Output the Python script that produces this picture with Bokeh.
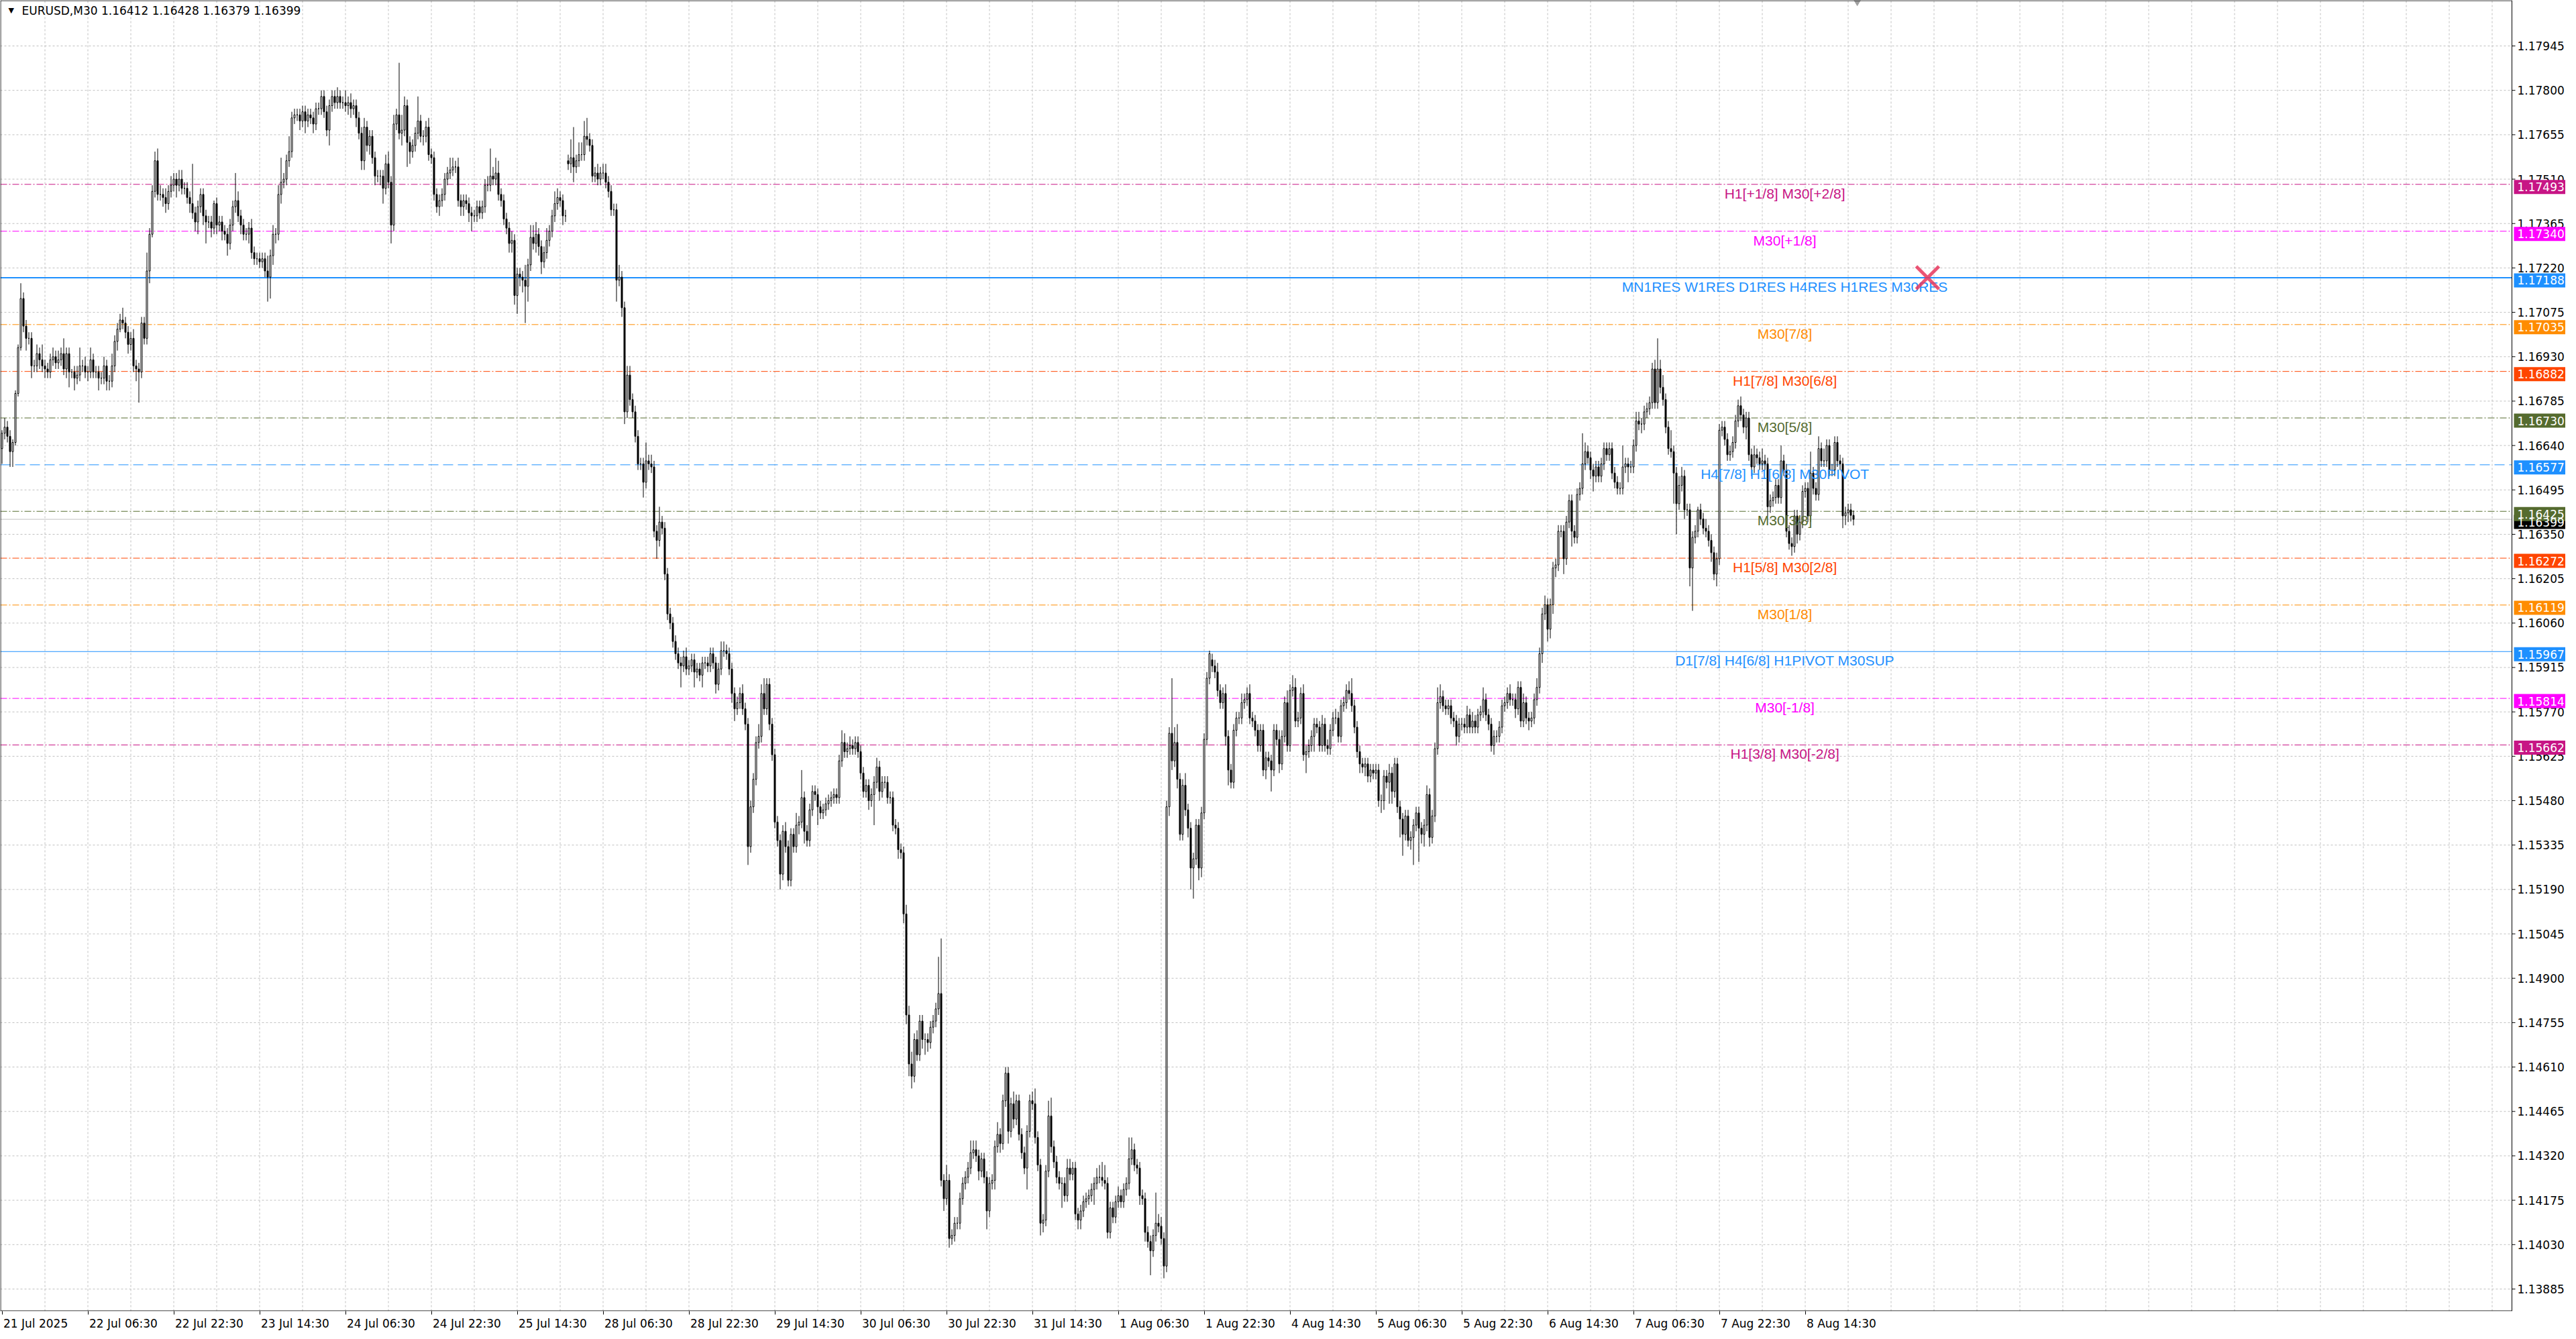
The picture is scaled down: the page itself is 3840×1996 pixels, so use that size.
from bokeh.plotting import figure
from bokeh.models import Range1d, FixedTicker, Label, ColumnDataSource
from bokeh.core.properties import value
from bokeh.embed import file_html
from bokeh.resources import INLINE

# ---------------- data ----------------
symbol = "EURUSD,M30"
header_ohlc = [1.16412, 1.16428, 1.16379, 1.16399]

# closes of each M30 bar, in pips (price * 10000); bar 0 = 21 Jul 14:30
closes_pips = [
    11668,11670,11667,11662,11665,11681,11696,11712,11703,11699,11699,11690,11690,11694,11692,11690,11689,11688,11692,11693,
    11691,11692,11694,11689,11694,11688,11688,11686,11687,11690,11690,11688,11688,11692,11688,11688,11686,11686,11690,11685,
    11685,11690,11698,11702,11705,11704,11701,11697,11699,11690,11689,11688,11704,11699,11721,11733,11747,11757,11746,11746,
    11745,11743,11747,11749,11751,11749,11751,11748,11748,11745,11743,11740,11737,11742,11746,11739,11737,11737,11735,11743,
    11736,11737,11734,11733,11730,11736,11742,11744,11739,11736,11733,11733,11735,11727,11725,11725,11724,11725,11721,11719,
    11726,11733,11733,11746,11750,11751,11757,11760,11771,11772,11772,11770,11773,11770,11772,11771,11769,11774,11774,11778,
    11773,11767,11775,11778,11776,11778,11776,11776,11775,11776,11774,11775,11771,11766,11757,11768,11762,11765,11758,11752,
    11752,11752,11748,11756,11750,11736,11769,11772,11766,11767,11775,11763,11760,11762,11766,11770,11765,11765,11768,11759,
    11758,11746,11742,11744,11746,11751,11753,11754,11755,11755,11744,11742,11744,11743,11740,11739,11739,11742,11740,11742,
    11749,11749,11752,11751,11753,11746,11744,11738,11735,11730,11731,11713,11720,11719,11718,11716,11723,11732,11730,11733,
    11729,11724,11727,11731,11734,11739,11743,11745,11744,11739,11739,11756,11758,11755,11757,11759,11759,11765,11764,11762,
    11752,11753,11751,11753,11753,11750,11747,11741,11741,11718,11719,11709,11675,11687,11679,11675,11667,11658,11658,11652,
    11659,11658,11657,11636,11633,11639,11637,11622,11609,11606,11600,11596,11593,11592,11595,11591,11592,11594,11590,11591,
    11589,11593,11593,11592,11596,11593,11586,11591,11597,11597,11596,11591,11583,11578,11580,11583,11578,11573,11533,11546,
    11555,11567,11569,11583,11578,11586,11573,11563,11541,11535,11524,11538,11533,11522,11537,11533,11540,11541,11549,11538,
    11535,11545,11551,11550,11546,11544,11545,11547,11548,11549,11550,11549,11561,11567,11564,11565,11566,11565,11567,11564,
    11557,11551,11553,11548,11550,11554,11559,11551,11554,11554,11549,11549,11540,11539,11532,11531,11511,11478,11462,11458,
    11470,11465,11476,11470,11470,11469,11474,11476,11480,11485,11424,11418,11424,11405,11406,11410,11410,11418,11423,11425,
    11428,11433,11434,11432,11427,11431,11425,11414,11423,11424,11435,11439,11436,11450,11459,11440,11449,11444,11450,11439,
    11433,11428,11440,11450,11449,11438,11429,11410,11411,11427,11445,11435,11430,11425,11423,11423,11419,11428,11426,11428,
    11413,11411,11414,11417,11418,11419,11421,11423,11425,11425,11424,11423,11407,11415,11412,11417,11419,11417,11421,11423,
    11431,11434,11429,11428,11419,11418,11407,11404,11401,11406,11410,11409,11405,11396,11546,11570,11561,11567,11555,11537,
    11553,11545,11539,11526,11529,11540,11526,11544,11568,11588,11596,11592,11590,11584,11580,11583,11569,11558,11554,11571,
    11575,11575,11580,11581,11583,11575,11574,11571,11566,11571,11558,11562,11561,11558,11571,11568,11560,11569,11580,11566,
    11584,11585,11574,11575,11583,11563,11564,11566,11569,11573,11572,11566,11573,11566,11565,11571,11575,11575,11569,11579,
    11580,11584,11583,11579,11572,11564,11560,11559,11560,11556,11558,11557,11558,11548,11548,11556,11554,11557,11551,11560,
    11546,11542,11537,11543,11535,11536,11540,11544,11539,11537,11540,11550,11536,11543,11565,11580,11582,11579,11578,11579,
    11575,11574,11569,11573,11573,11572,11576,11572,11574,11572,11576,11577,11581,11576,11573,11566,11569,11569,11572,11579,
    11580,11583,11581,11581,11578,11585,11574,11580,11575,11574,11575,11581,11585,11596,11609,11612,11604,11612,11624,11625,
    11636,11636,11627,11639,11646,11636,11634,11648,11650,11658,11662,11660,11656,11654,11657,11654,11658,11663,11661,11663,
    11655,11652,11650,11650,11657,11658,11657,11657,11664,11672,11671,11671,11675,11676,11678,11689,11678,11689,11683,11679,
    11670,11663,11662,11655,11645,11651,11654,11643,11643,11624,11634,11636,11643,11640,11637,11636,11633,11629,11622,11627,
    11669,11670,11666,11661,11662,11665,11672,11677,11674,11670,11673,11661,11657,11661,11660,11658,11659,11658,11644,11646,
    11647,11651,11647,11659,11656,11636,11632,11631,11641,11635,11639,11649,11650,11641,11655,11650,11648,11663,11659,11659,
    11664,11656,11656,11665,11659,11658,11641,11642,11643,11641.2,11639.9,
]
first_open = 11663
gap_opens = {211: 11757, 451: 11594}

# upper / lower shadow lengths in pips
hi_wick = [
    1,3,2,2,1,1,1,5,2,2,2,2,2,3,2,5,2,2,2,3,
    2,3,2,5,2,2,1,2,3,6,2,3,2,4,2,2,2,2,3,2,
    2,4,2,2,2,4,2,2,2,3,2,2,2,2,6,2,2,3,4,3,
    2,3,2,3,2,2,3,3,2,2,2,13,2,2,2,2,2,2,2,1,
    2,2,2,2,2,2,2,9,3,2,2,2,2,3,2,2,2,2,2,5,
    2,3,2,3,8,2,2,5,2,2,2,2,2,2,2,2,2,2,2,2,
    2,2,2,2,2,3,2,2,4,2,3,2,2,2,2,3,2,2,2,2,
    2,2,2,3,4,2,3,2,17,5,3,2,2,2,2,8,2,2,2,3,
    2,2,2,2,2,2,2,4,3,2,3,2,2,2,2,2,2,2,2,2,
    2,3,9,3,5,4,2,2,2,2,3,2,2,2,2,5,2,4,4,4,
    2,2,2,4,2,2,4,3,2,2,2,2,6,10,2,4,4,5,6,2,
    2,2,3,2,3,3,2,2,2,2,4,2,2,3,3,2,2,2,2,2,
    6,2,3,2,2,5,2,2,2,2,2,2,2,2,2,3,2,2,2,2,
    2,2,2,2,2,2,2,2,3,3,2,2,2,2,2,2,3,2,2,2,
    2,2,4,3,5,2,2,2,2,2,2,2,3,2,2,2,4,2,9,2,
    2,2,2,2,2,2,2,2,2,2,2,2,2,4,3,2,3,2,2,2,
    2,2,2,2,2,2,3,2,2,2,2,2,2,2,2,2,2,3,3,4,
    2,3,2,2,2,2,2,2,2,12,18,2,5,2,2,2,2,2,2,2,
    2,4,3,3,2,2,2,2,2,2,2,4,2,2,2,2,2,4,2,2,
    2,2,2,2,3,5,2,2,2,2,5,6,2,2,2,2,2,3,3,2,
    2,2,2,2,2,2,2,2,3,4,5,5,2,2,2,2,3,2,2,2,
    7,4,2,2,2,2,2,2,2,2,10,3,3,2,2,2,18,5,6,2,
    2,4,2,2,2,2,2,2,2,2,1,2,2,3,2,2,3,2,2,2,
    2,2,3,2,2,3,2,2,2,2,2,2,2,2,2,2,3,2,2,4,
    2,4,3,2,2,3,2,2,2,2,2,2,3,2,2,2,2,3,2,2,
    2,2,3,5,2,2,2,2,2,2,2,2,2,2,2,2,2,3,2,2,
    2,2,2,2,2,2,2,2,2,2,2,3,2,2,2,5,4,2,2,2,
    2,2,2,2,2,2,3,2,3,2,2,2,4,2,2,2,2,2,2,2,
    2,2,3,2,2,2,2,3,2,2,2,2,3,2,2,3,2,2,2,2,
    2,2,2,2,2,2,2,2,2,10,3,2,2,2,2,2,2,2,2,2,
    2,2,2,2,7,2,2,2,2,3,3,2,2,2,2,2,3,10,3,4,
    2,2,6,2,2,3,3,2,2,2,2,2,1,2,2,3,2,2,2,2,
    2,2,2,2,2,2,2,2,3,2,2,2,2,3,2,2,4,2,2,2,
    2,2,2,5,2,2,2,2,2,2,2,2,2,2,7,2,2,4,2,4,
    2,2,2,2,2,2,2,2,2,2,1.6,
]
lo_wick = [
    5,2,2,5,5,1,1,1,2,4,2,4,2,2,3,2,3,2,2,2,
    2,2,2,2,3,5,2,4,2,2,2,2,3,2,2,2,4,2,2,3,
    3,2,2,3,1,2,2,3,2,2,4,10,2,2,2,4,1,2,2,2,
    3,3,2,2,2,4,2,2,2,2,3,2,3,4,2,3,7,2,3,2,
    3,2,3,2,4,2,2,2,2,3,2,2,3,2,2,2,2,2,2,8,
    7,3,3,2,3,2,2,2,2,2,2,3,2,4,2,2,3,2,2,2,
    2,2,5,2,2,2,2,2,2,3,3,2,3,2,3,3,2,3,2,3,
    2,3,5,2,2,6,2,2,2,4,2,8,4,2,2,2,2,3,2,2,
    2,2,2,3,2,2,2,2,2,2,2,3,3,2,3,5,2,2,2,2,
    2,2,2,2,2,2,2,2,2,3,3,3,6,3,4,12,5,2,2,3,
    3,4,2,2,2,2,2,2,2,3,2,2,3,5,2,2,2,2,2,2,
    2,2,2,2,2,2,2,2,2,7,2,3,4,2,2,2,2,2,2,5,
    2,2,2,2,6,2,2,2,2,2,2,2,2,7,2,2,2,2,5,2,
    2,4,2,2,2,2,3,2,2,2,2,2,3,4,2,2,2,2,6,2,
    2,2,2,2,2,2,2,2,2,2,5,2,2,2,2,2,2,3,2,4,
    2,2,2,2,6,2,2,2,2,2,2,2,2,2,2,2,2,2,2,2,
    2,2,2,3,2,10,2,3,2,2,2,2,2,2,3,2,3,3,4,4,
    2,2,2,3,5,3,2,2,2,2,2,4,2,3,2,2,2,2,2,2,
    2,2,2,2,3,2,2,6,2,2,3,2,3,2,2,4,2,3,2,2,
    2,2,7,2,2,2,2,4,3,2,2,2,2,2,2,8,2,2,2,2,
    2,3,3,2,2,2,2,5,2,2,2,2,2,2,2,2,2,2,2,2,
    2,2,2,2,3,2,3,2,8,2,2,2,2,4,2,3,3,2,3,2,
    2,2,3,7,10,2,4,3,2,2,2,2,2,2,2,2,3,5,2,2,
    2,2,2,2,2,2,2,2,2,2,2,3,2,7,2,2,3,2,2,2,
    2,2,2,2,2,2,6,2,2,5,2,2,2,2,2,2,2,2,2,2,
    2,2,2,2,2,2,3,2,3,2,2,2,2,2,4,3,2,7,4,2,
    2,6,7,2,2,3,9,2,11,3,4,2,3,2,2,2,2,2,2,2,
    2,2,3,2,2,2,2,2,2,2,2,2,2,2,2,2,3,2,2,2,
    2,2,2,2,3,2,2,2,2,3,2,2,2,2,3,2,4,3,3,3,
    2,2,5,2,2,5,2,2,2,2,2,2,3,5,2,2,2,2,2,2,
    2,2,2,2,2,2,5,2,2,2,2,3,2,2,2,2,2,2,2,2,
    2,2,2,10,10,2,2,3,2,6,14,2,2,2,2,2,2,3,2,4,
    2,2,2,2,2,2,2,2,2,2,4,2,3,2,2,2,2,2,3,2,
    2,2,2,2,2,2,2,3,2,3,2,2,2,2,2,2,2,2,2,2,
    2,2,2,2,2,2,4,3,3,2,2.0,
]

time_labels = ["21 Jul 2025", "22 Jul 06:30", "22 Jul 22:30", "23 Jul 14:30", "24 Jul 06:30",
               "24 Jul 22:30", "25 Jul 14:30", "28 Jul 06:30", "28 Jul 22:30", "29 Jul 14:30",
               "30 Jul 06:30", "30 Jul 22:30", "31 Jul 14:30", "1 Aug 06:30", "1 Aug 22:30",
               "4 Aug 14:30", "5 Aug 06:30", "5 Aug 22:30", "6 Aug 14:30", "7 Aug 06:30",
               "7 Aug 22:30", "8 Aug 14:30"]
bars_per_label = 32
bars_per_vgrid = 16

price_ticks = [1.17945, 1.17800, 1.17655, 1.17510, 1.17365, 1.17220, 1.17075, 1.16930, 1.16785,
               1.16640, 1.16495, 1.16350, 1.16205, 1.16060, 1.15915, 1.15770, 1.15625, 1.15480,
               1.15335, 1.15190, 1.15045, 1.14900, 1.14755, 1.14610, 1.14465, 1.14320, 1.14175,
               1.14030, 1.13885]

level_prices = [1.17493, 1.17340, 1.17188, 1.17035, 1.16882, 1.16730, 1.16577,
                1.16425, 1.16272, 1.16119, 1.15967, 1.15814, 1.15662]
level_texts = ["H1[+1/8] M30[+2/8]", "M30[+1/8]", "MN1RES W1RES D1RES H4RES H1RES M30RES",
               "M30[7/8]", "H1[7/8] M30[6/8]", "M30[5/8]", "H4[7/8] H1[6/8] M30PIVOT",
               "M30[3/8]", "H1[5/8] M30[2/8]", "M30[1/8]", "D1[7/8] H4[6/8] H1PIVOT M30SUP",
               "M30[-1/8]", "H1[3/8] M30[-2/8]"]
level_colors = ["#C71585", "#FF00FF", "#1E90FF", "#FF8C00", "#FF4500", "#556B2F", "#1E90FF",
                "#556B2F", "#FF4500", "#FF8C00", "#1E90FF", "#FF00FF", "#C71585"]
level_dashes = ["10 3 2 3", "10 3 2 3", "solid", "10 3 2 3", "10 3 2 3", "10 3 2 3", "15 7",
                "10 3 2 3", "10 3 2 3", "10 3 2 3", "solid", "10 3 2 3", "10 3 2 3"]
level_widths = [1, 1, 2, 1, 1, 1, 1, 1, 1, 1, 1, 1, 1]

trade_mark_x = [717.6]
trade_mark_y = [1.17188]
shift_mark_x = [691.4]

# ---------------- geometry ----------------
CANVAS_W = 3824          # whole drawing area (chart + price scale)
CHART_W = 3744           # chart part, left of the price scale
FRAME_H = 1954
BAR_PX = 4.0
PX_PER_PRICE = 45640.0
x0 = -0.625
x1 = x0 + CANVAS_W / BAR_PX
xb = x0 + CHART_W / BAR_PX          # chart / price-scale border
y_top = 1.180940
y_bot = y_top - FRAME_H / PX_PER_PRICE
hpx = 0.5 / BAR_PX                  # half a pixel in x units
vpx = 0.5 / PX_PER_PRICE            # half a pixel in y units
box_drop = 4 / PX_PER_PRICE         # price boxes sit a few px below their line
level_text_x = 664.4

n = min(len(closes_pips), len(hi_wick), len(lo_wick))
closes = closes_pips[:n]
opens = [first_open] + closes[:-1]
for k, v in gap_opens.items():
    if k < n:
        opens[k] = v
o = [v / 1e4 for v in opens]
c = [v / 1e4 for v in closes]
top = [max(a, b) for a, b in zip(o, c)]
bot = [min(a, b) for a, b in zip(o, c)]
hi = [t + w / 1e4 for t, w in zip(top, hi_wick)]
lo = [b - w / 1e4 for b, w in zip(bot, lo_wick)]
fill = ["white" if cc >= oo else "black" for oo, cc in zip(o, c)]
src = ColumnDataSource(dict(x=list(range(n)), top=top, bottom=bot, high=hi, low=lo, fill=fill))

p = figure(frame_width=CANVAS_W, frame_height=FRAME_H,
           x_range=Range1d(x0, x1), y_range=Range1d(y_bot, y_top),
           y_axis_location=None, toolbar_location=None, output_backend="svg",
           min_border_left=0, min_border_top=0, min_border_bottom=0, min_border_right=0,
           background_fill_color="white", border_fill_color="white")
p.outline_line_color = None
p.xgrid.visible = False
p.ygrid.visible = False

# x axis: left-aligned labels (label centre shifted right of its tick)
cw = {" ": .318, ":": .337, "J": .295, "u": .634, "l": .278, "A": .684, "g": .635}
fs_x = 17
tick_bars = [i * bars_per_label for i in range(len(time_labels))]
centers = []
for tb, lab in zip(tick_bars, time_labels):
    wpx = sum(cw.get(ch, .636) for ch in lab) * fs_x
    centers.append(round(tb + (wpx / 2 + 2) / BAR_PX, 2))
p.xaxis.ticker = FixedTicker(ticks=centers, minor_ticks=tick_bars)
p.xaxis.major_label_overrides = {cc: lab for cc, lab in zip(centers, time_labels)}
p.xaxis.major_tick_line_color = None
p.xaxis.major_tick_in = 0
p.xaxis.major_tick_out = 0
p.xaxis.minor_tick_in = 0
p.xaxis.minor_tick_out = 5
p.xaxis.minor_tick_line_color = "black"
p.xaxis.major_label_standoff = 3
p.xaxis.major_label_text_font = "DejaVu Sans"
p.xaxis.major_label_text_font_size = f"{fs_x}px"
p.xaxis.major_label_text_color = "black"
p.xaxis.axis_line_color = None

# grid (only over the chart part)
vg = list(range(bars_per_vgrid, int(xb), bars_per_vgrid))
p.segment(x0=vg, x1=vg, y0=[y_bot] * len(vg), y1=[y_top] * len(vg),
          line_color="#C0C0C0", line_dash="3 3", line_width=1)
p.segment(x0=[x0] * len(price_ticks), x1=[xb] * len(price_ticks), y0=price_ticks, y1=price_ticks,
          line_color="#C0C0C0", line_dash="3 3", line_width=1)

# level lines (under candles)
for pr, col, dsh, lw in zip(level_prices, level_colors, level_dashes, level_widths):
    p.segment(x0=[x0], x1=[xb], y0=[pr], y1=[pr], line_color=col, line_dash=dsh, line_width=lw)
p.segment(x0=[x0], x1=[xb], y0=[header_ohlc[3]], y1=[header_ohlc[3]], line_color="#C0C0C0", line_width=1)

# candles
p.segment(x0="x", y0="low", x1="x", y1="high", source=src, line_color="black", line_width=1)
p.vbar(x="x", width=0.5, top="top", bottom="bottom", fill_color="fill",
       line_color="black", line_width=1, source=src)

# level texts
p.text(x=[level_text_x] * len(level_prices), y=level_prices, text=level_texts,
       text_color=level_colors, text_font=value("Liberation Sans"), text_font_size="21px",
       text_align="center", text_baseline="top", y_offset=2)

# trade marker and chart-shift marker
p.scatter(x=trade_mark_x, y=trade_mark_y, marker="x", size=48, line_color="#E8365D",
          line_width=5, line_alpha=0.85)
p.scatter(x=shift_mark_x, y=[y_top], marker="inverted_triangle", size=14,
          fill_color="#A0A0A0", line_color="#A0A0A0")

# chart frame (left, top, bottom, and the price-scale border)
p.segment(x0=[x0 + hpx, x0 + hpx, x0, xb], x1=[x0 + hpx, xb, xb, xb],
          y0=[y_bot, y_top - vpx, y_bot + vpx, y_bot], y1=[y_top, y_top - vpx, y_bot + vpx, y_top],
          line_color="black", line_width=1)

# price scale: ticks and labels
tick_len = 5 / BAR_PX
p.segment(x0=[xb] * len(price_ticks), x1=[xb + tick_len] * len(price_ticks),
          y0=price_ticks, y1=price_ticks, line_color="black", line_width=1)
p.text(x=[xb + 8 / BAR_PX] * len(price_ticks), y=price_ticks,
       text=[f"{t:.5f}" for t in price_ticks], text_color="black",
       text_font=value("DejaVu Sans"), text_font_size="17px",
       text_align="left", text_baseline="middle")

# price boxes (bid first, so the level box covers it)
box_prices = [header_ohlc[3]] + level_prices
box_colors = ["black"] + level_colors
box_y = [v - box_drop for v in box_prices]
box_w_px, box_h_px = 77, 21
box_cx = xb + (3 + box_w_px / 2) / BAR_PX
p.rect(x=[box_cx] * len(box_prices), y=box_y, width=box_w_px, height=box_h_px,
       width_units="screen", height_units="screen", fill_color=box_colors, line_color=None)
p.text(x=[xb + 8 / BAR_PX] * len(box_prices), y=box_y,
       text=[f"{v:.5f}" for v in box_prices], text_color="white",
       text_font=value("DejaVu Sans"), text_font_size="17px",
       text_align="left", text_baseline="middle")

# header
p.add_layout(Label(x=12, x_units="screen", y=1.18061, text="\u25BC", text_font="DejaVu Sans",
                   text_font_size="11px", text_baseline="middle", text_color="black"))
hdr = symbol + "  " + " ".join(f"{v:.5f}" for v in header_ohlc)
p.add_layout(Label(x=32, x_units="screen", y=1.18061, text=hdr, text_font="DejaVu Sans",
                   text_font_size="17px", text_baseline="middle", text_color="black"))

open("out.html", "w").write(file_html(p, INLINE))
